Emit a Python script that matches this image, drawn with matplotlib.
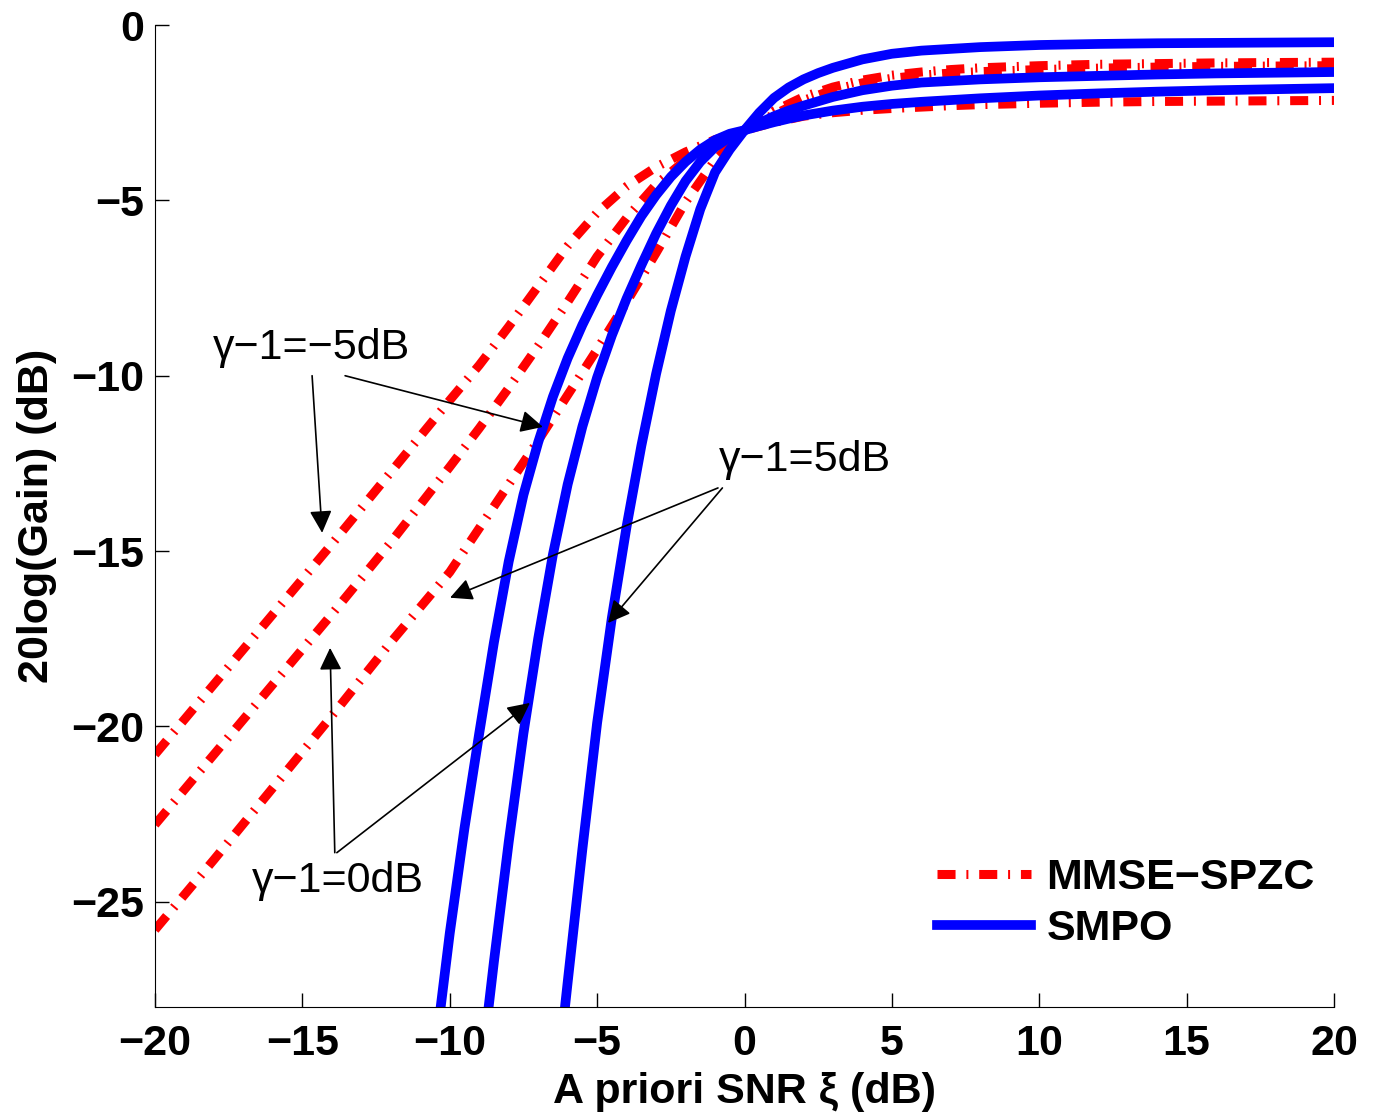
import matplotlib.pyplot as plt

plt.rcParams['font.family'] = ['Liberation Sans', 'DejaVu Sans']

# MMSE-SPZC curves, gamma-1 = -5, 0, 5 dB
x_red = [-20, -18, -16, -14, -12, -10, -9, -8, -7, -6, -5, -4, -3, -2, -1, 0,
         1, 2, 3, 4, 5, 6, 7, 8, 10, 12, 14, 16, 18, 20]
mmse_m5 = [-20.8, -18.8, -16.8, -14.8, -12.75, -10.7, -9.7, -8.6, -7.45, -6.3, -5.35, -4.6,
           -4.05, -3.62, -3.27, -3.0, -2.78, -2.6, -2.5, -2.43, -2.38, -2.34, -2.3, -2.27,
           -2.23, -2.2, -2.18, -2.17, -2.16, -2.15]
mmse_0 = [-22.8, -20.8, -18.8, -16.8, -14.75, -12.6, -11.5, -10.35, -9.15, -7.9, -6.6, -5.5,
          -4.55, -3.85, -3.35, -3.0, -2.55, -2.15, -1.85, -1.65, -1.52, -1.43, -1.37, -1.33,
          -1.27, -1.23, -1.2, -1.18, -1.17, -1.16]
mmse_5 = [-25.8, -23.8, -21.75, -19.7, -17.6, -15.6, -14.35, -13.1, -11.85, -10.55, -9.25, -7.9,
          -6.5, -5.05, -3.85, -3.0, -2.45, -2.05, -1.77, -1.57, -1.43, -1.34, -1.27, -1.22,
          -1.16, -1.12, -1.1, -1.08, -1.07, -1.06]

# SMPO curves
x_b1 = [-10.6, -10, -9.5, -9, -8.5, -8, -7.5, -7, -6.5, -6, -5.5, -5, -4.5, -4, -3.5, -3,
        -2.5, -2, -1.5, -1, -0.5, 0, 0.5, 1, 1.5, 2, 3, 4, 5, 6, 8, 10, 12, 14, 16, 18, 20]
smpo_m5 = [-30.0, -25.9, -22.9, -20.2, -17.6, -15.3, -13.4, -11.9, -10.6, -9.5, -8.55, -7.7,
           -6.9, -6.15, -5.45, -4.85, -4.33, -3.9, -3.55, -3.28, -3.1, -3.0, -2.88, -2.77,
           -2.67, -2.58, -2.44, -2.33, -2.25, -2.19, -2.09, -2.01, -1.95, -1.9, -1.86, -1.83, -1.8]

x_b2 = [-9, -8.5, -8, -7.5, -7, -6.5, -6, -5.5, -5, -4.5, -4, -3.5, -3, -2.5, -2, -1.5, -1,
        -0.5, 0, 0.5, 1, 1.5, 2, 3, 4, 5, 6, 8, 10, 12, 14, 16, 18, 20]
smpo_0 = [-30.3, -26.7, -23.3, -20.2, -17.5, -15.1, -13.1, -11.45, -10.05, -8.85, -7.8, -6.85,
          -5.95, -5.15, -4.45, -3.9, -3.48, -3.2, -3.0, -2.8, -2.6, -2.44, -2.3, -2.05,
          -1.86, -1.73, -1.64, -1.55, -1.49, -1.45, -1.41, -1.38, -1.36, -1.34]

x_b3 = [-6.4, -6, -5.5, -5, -4.5, -4, -3.5, -3, -2.5, -2, -1.5, -1, -0.5, 0, 0.5, 1, 1.5,
        2, 2.5, 3, 4, 5, 6, 8, 10, 12, 14, 16, 18, 20]
smpo_5 = [-30.4, -27.3, -23.5, -19.9, -16.9, -14.3, -12.0, -9.95, -8.15, -6.6, -5.25, -4.2,
          -3.55, -3.0, -2.5, -2.08, -1.78, -1.55, -1.37, -1.22, -0.98, -0.82, -0.73, -0.63,
          -0.57, -0.54, -0.52, -0.51, -0.5, -0.49]

fig = plt.figure(figsize=(13.74, 11.17), dpi=100)
ax = fig.add_axes([0.1128, 0.0985, 0.8581, 0.8791])

red_ls = (0.0, (2.0, 1.2, 0.22, 1.2))
ax.plot(x_red, mmse_m5, color='red', lw=6.5, ls=red_ls, dash_capstyle='butt', label='MMSE\u2212SPZC')
ax.plot(x_red, mmse_0, color='red', lw=6.5, ls=red_ls, dash_capstyle='butt')
ax.plot(x_red, mmse_5, color='red', lw=6.5, ls=red_ls, dash_capstyle='butt')
ax.plot(x_b1, smpo_m5, color='blue', lw=7, label='SMPO')
ax.plot(x_b2, smpo_0, color='blue', lw=7)
ax.plot(x_b3, smpo_5, color='blue', lw=7)

ax.set_xlim(-20, 20)
ax.set_ylim(-28, 0)
ax.set_xticks(range(-20, 21, 5))
ax.set_yticks(range(-25, 1, 5))
ax.spines['top'].set_visible(False)
ax.spines['right'].set_visible(False)
ax.tick_params(direction='in', length=10, width=1, labelsize=31)
ax.tick_params(axis='x', pad=12)
ax.tick_params(axis='y', pad=8)
for lbl in ax.get_xticklabels() + ax.get_yticklabels():
    lbl.set_fontweight('bold')

ax.set_xlabel('A priori SNR \u03be (dB)', fontsize=31, fontweight='bold', labelpad=6)
ax.set_ylabel('20log(Gain) (dB)', fontsize=31, fontweight='bold', labelpad=10)

# annotations
arrow = dict(arrowstyle='-|>', color='black', lw=1.2, mutation_scale=34, shrinkA=0, shrinkB=0)
ax.text(-14.7, -9.2, '\u03b3\u22121=\u22125dB', fontsize=31, ha='center', va='center')
ax.annotate('', xy=(-14.33, -14.48), xytext=(-14.67, -10.0), arrowprops=arrow)
ax.annotate('', xy=(-6.84, -11.46), xytext=(-13.55, -10.0), arrowprops=arrow)

ax.text(2.05, -12.4, '\u03b3\u22121=5dB', fontsize=31, ha='center', va='center')
ax.annotate('', xy=(-9.99, -16.33), xytext=(-0.9, -13.2), arrowprops=arrow)
ax.annotate('', xy=(-4.63, -17.05), xytext=(-0.75, -13.2), arrowprops=arrow)

ax.text(-13.8, -24.4, '\u03b3\u22121=0dB', fontsize=31, ha='center', va='center')
ax.annotate('', xy=(-14.06, -17.76), xytext=(-13.9, -23.6), arrowprops=arrow)
ax.annotate('', xy=(-7.28, -19.33), xytext=(-13.83, -23.6), arrowprops=arrow)

leg = ax.legend(loc='lower left', bbox_to_anchor=(0.63, 0.02), frameon=False,
                prop=dict(size=31, weight='bold'),
                handlelength=2.2, handletextpad=0.35, labelspacing=0.25)

fig.savefig('out.png', dpi=100)
